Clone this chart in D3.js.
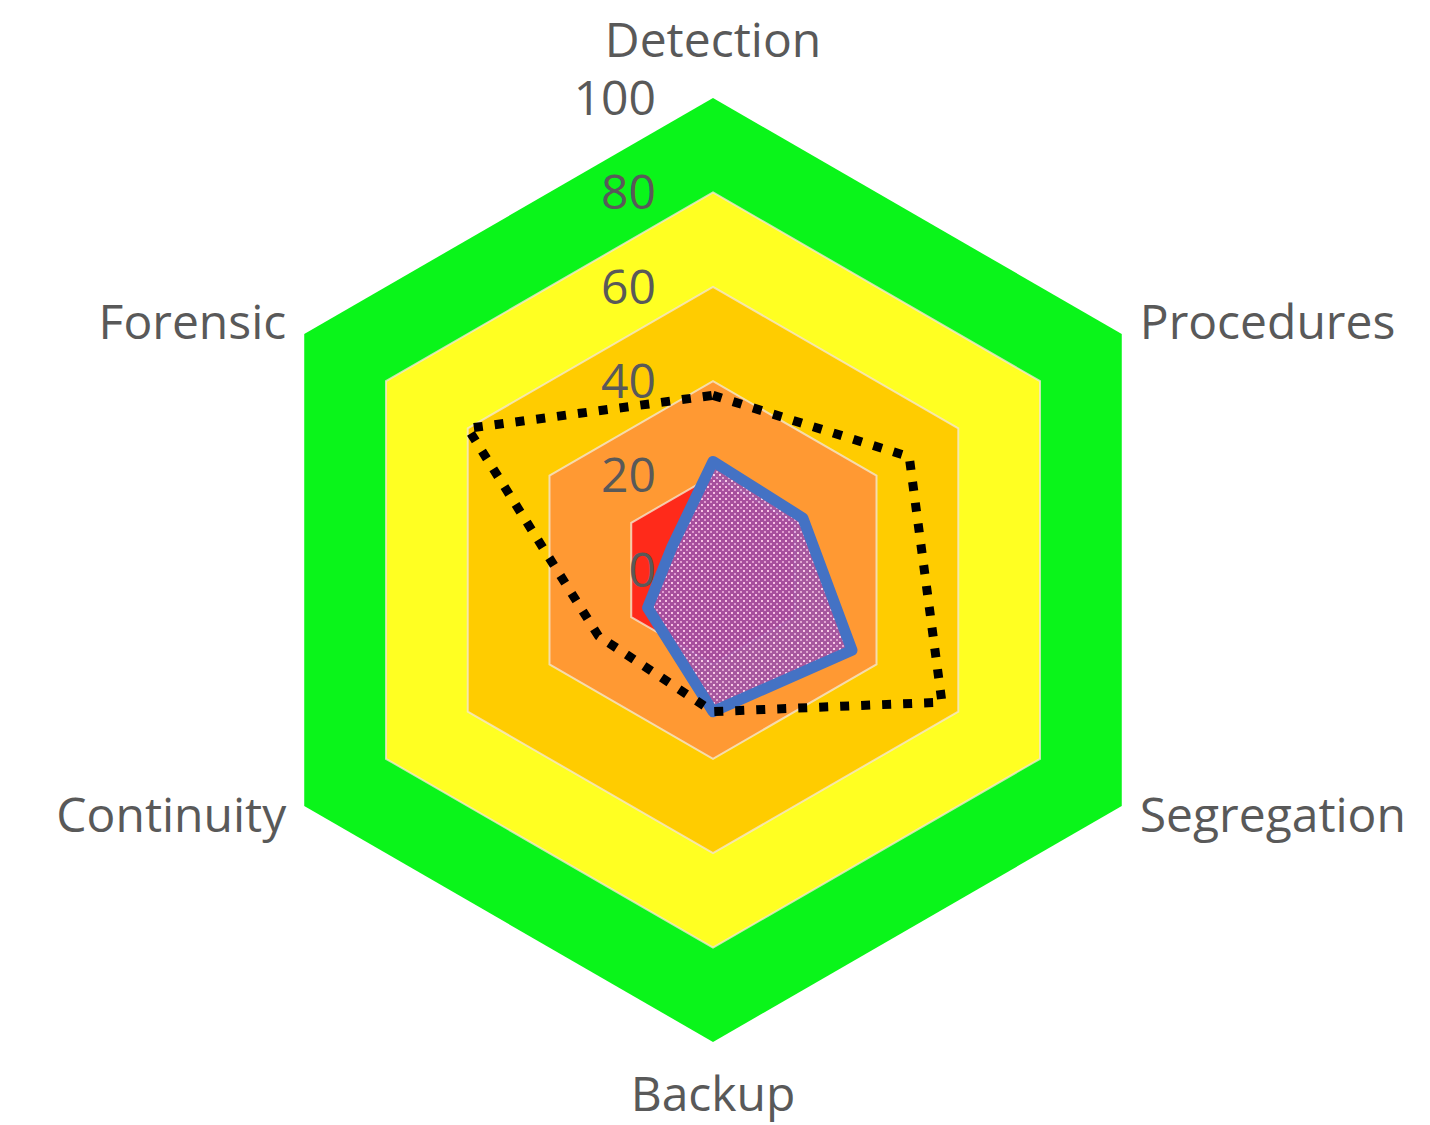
<!DOCTYPE html>
<html>
<head>
<meta charset="utf-8">
<script src="https://cdn.jsdelivr.net/npm/d3@7"></script>
<style>
  html, body { margin: 0; padding: 0; background: #fff; }
  text { font-family: "Open Sans", "Noto Sans", sans-serif; fill: #595959; }
</style>
</head>
<body>
<svg id="chart" width="1430" height="1125"></svg>
<script>
// axes, clockwise from top
const axes = ["Detection", "Procedures", "Segregation", "Backup", "Continuity", "Forensic"];
const ticks = [0, 20, 40, 60, 80, 100];
// background bands (outer value of each band)
const bandLevels = [100, 80, 60, 40, 20];
const bandColors = ["#0af51a", "#ffff22", "#ffcc00", "#ff9933", "#ff2a1a"];
// series
const dottedValues = [37, 48, 56, 30, 28, 60];
const blueValues = [23, 22, 34, 30, 16, 10];

const svg = d3.select("#chart");
const cx = 713, cy = 570;
const r = d3.scaleLinear().domain([0, 100]).range([0, 472]);
const ang = i => i * 2 * Math.PI / axes.length;

const g = svg.append("g").attr("transform", `translate(${cx},${cy})`);

const radial = d3.lineRadial()
  .angle((d, i) => ang(i))
  .radius(d => r(d))
  .curve(d3.curveLinearClosed);

// pattern for blue series fill
const defs = svg.append("defs");
const pat = defs.append("pattern")
  .attr("id", "dots")
  .attr("width", 6).attr("height", 6)
  .attr("patternUnits", "userSpaceOnUse");
pat.append("rect").attr("width", 6).attr("height", 6).attr("fill", "#a052a8");
pat.append("rect").attr("x", 0).attr("y", 0).attr("width", 2).attr("height", 2).attr("fill", "#f6d0f4");
pat.append("rect").attr("x", 3).attr("y", 3).attr("width", 2).attr("height", 2).attr("fill", "#dca6de");

// bands
bandLevels.forEach((lv, k) => {
  g.append("path")
    .attr("d", radial(axes.map(() => lv)))
    .attr("fill", bandColors[k]);
});

// grid lines
ticks.slice(1, -1).forEach(t => {
  g.append("path")
    .attr("d", radial(axes.map(() => t)))
    .attr("fill", "none")
    .attr("stroke", "#f4e6cf")
    .attr("stroke-opacity", 0.8)
    .attr("stroke-width", 2);
});

// tick labels
ticks.forEach(t => {
  g.append("text")
    .attr("x", -57)
    .attr("y", -r(t))
    .attr("dy", "0.35em")
    .attr("text-anchor", "end")
    .attr("font-size", 48)
    .text(t);
});

// blue series
g.append("path")
  .attr("d", radial(blueValues))
  .attr("fill", "url(#dots)")
  .attr("fill-opacity", 0.92)
  .attr("stroke", "#4472c4")
  .attr("stroke-width", 11)
  .attr("stroke-linejoin", "round");

// dotted series
g.append("path")
  .attr("d", radial(dottedValues))
  .attr("fill", "none")
  .attr("stroke", "#000")
  .attr("stroke-width", 9)
  .attr("stroke-dasharray", "9,12");

// axis labels
axes.forEach((name, i) => {
  const a = ang(i) - Math.PI / 2;
  const x = Math.cos(a) * r(100), y = Math.sin(a) * r(100);
  let anchor = "middle", dx = 0, dy = 0;
  if (Math.abs(Math.cos(a)) < 0.01) {
    dy = y < 0 ? -58 : 52;
  } else if (Math.cos(a) > 0) {
    anchor = "start"; dx = 18; dy = y < 0 ? -12 : 9;
  } else {
    anchor = "end"; dx = -18; dy = y < 0 ? -12 : 9;
  }
  g.append("text")
    .attr("x", x + dx)
    .attr("y", y + dy)
    .attr("dy", "0.35em")
    .attr("text-anchor", anchor)
    .attr("font-size", 48)
    .text(name);
});
</script>
</body>
</html>
